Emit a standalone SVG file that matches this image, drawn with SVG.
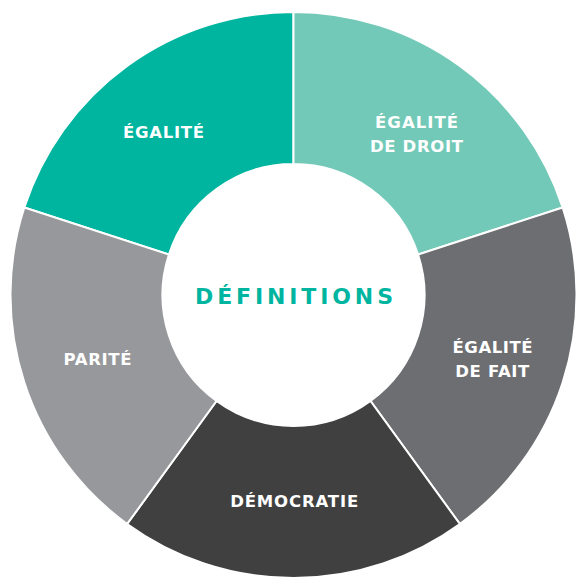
<svg xmlns="http://www.w3.org/2000/svg" width="576" height="577" viewBox="0 0 576 577">
<style>
.seg{stroke:#ffffff;stroke-width:2;stroke-linejoin:miter}
.lbl{font-family:"DejaVu Sans","Open Sans",sans-serif;font-weight:700;font-size:16.5px;fill:#ffffff;text-anchor:middle}
.title{font-family:"DejaVu Sans","Open Sans",sans-serif;font-weight:700;font-size:22px;fill:#00b59f;text-anchor:middle}
</style>
<rect width="576" height="577" fill="#ffffff"/>
<g id="egalite">
<path class="seg" fill="#00b59f" d="M24.35,207.55 A283,283 0 0 1 293.5,12 L293.5,164 A131,131 0 0 0 168.91,254.52 Z"/>
<text class="lbl" x="163.5" y="138.3" textLength="81" lengthAdjust="spacing">ÉGALITÉ</text>
</g>
<g id="egalite-de-droit">
<path class="seg" fill="#72c9b8" d="M293.5,12 A283,283 0 0 1 562.65,207.55 L418.09,254.52 A131,131 0 0 0 293.5,164 Z"/>
<text class="lbl" x="416.5" y="128.3" textLength="83" lengthAdjust="spacing">ÉGALITÉ</text>
<text class="lbl" x="416.5" y="151.7" textLength="93" lengthAdjust="spacing">DE DROIT</text>
</g>
<g id="egalite-de-fait">
<path class="seg" fill="#6d6e71" d="M562.65,207.55 A283,283 0 0 1 459.84,523.95 L370.5,400.98 A131,131 0 0 0 418.09,254.52 Z"/>
<text class="lbl" x="492.5" y="353.3" textLength="80" lengthAdjust="spacing">ÉGALITÉ</text>
<text class="lbl" x="492.3" y="377.3" textLength="74" lengthAdjust="spacing">DE FAIT</text>
</g>
<g id="democratie">
<path class="seg" fill="#404041" d="M459.84,523.95 A283,283 0 0 1 127.16,523.95 L216.5,400.98 A131,131 0 0 0 370.5,400.98 Z"/>
<text class="lbl" x="294.2" y="507.3" textLength="128" lengthAdjust="spacing">DÉMOCRATIE</text>
</g>
<g id="parite">
<path class="seg" fill="#97989b" d="M127.16,523.95 A283,283 0 0 1 24.35,207.55 L168.91,254.52 A131,131 0 0 0 216.5,400.98 Z"/>
<text class="lbl" x="97.5" y="365" textLength="68" lengthAdjust="spacing">PARITÉ</text>
</g>
<g id="definitions">
<circle cx="293.5" cy="295" r="130" fill="#ffffff"/>
<text class="title" x="294" y="304" textLength="198" lengthAdjust="spacing">DÉFINITIONS</text>
</g>
<g id="connectors"></g>
</svg>
